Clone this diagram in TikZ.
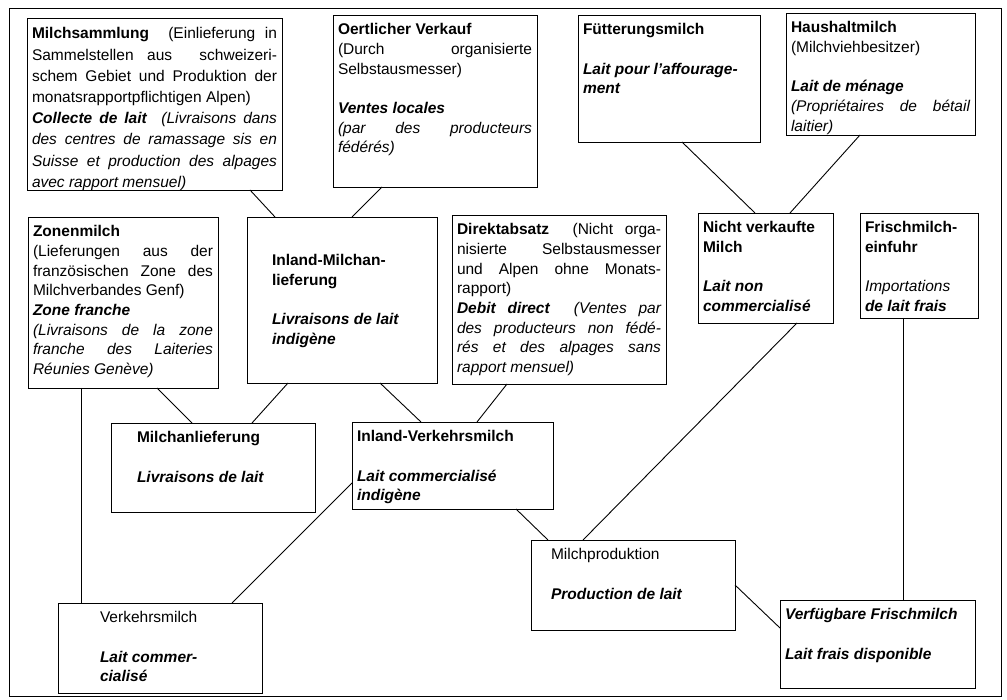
\documentclass[tikz,border=0pt]{standalone}
\usepackage{fontspec}
\setmainfont{Liberation Sans}

\newcommand{\feld}[4][t]{\parbox[t][#3][#1]{#2}{\strut #4}}
\hbadness=10000 \vbadness=10000
\hyphenpenalty=10000 \tolerance=10000 \pretolerance=-1

\begin{document}
\begin{tikzpicture}[x=1pt, y=-1pt, line width=0.9pt,
    kasten/.style={draw, anchor=north west, inner xsep=5pt, inner ysep=6pt, outer sep=0pt,
      font=\fontsize{15.5}{19.7}\selectfont}]
  \useasboundingbox (0,0) rectangle (1007,700);
  \draw (9,8) rectangle (1001,696);

  % obere Reihe
  \node[kasten, font=\fontsize{15.5}{21.2}\selectfont] (msam) at (27,18) {\feld{245pt}{160pt}{\textbf{Milchsammlung}\ \ (Einlieferung in\linebreak
    Sammelstellen aus\ \ schweizeri-\linebreak schem Gebiet und Produktion der\linebreak
    monatsrapportpflichtigen Alpen)\\
    \textbf{\textit{Collecte de lait}}\ \ \textit{(Livraisons dans\linebreak
    des centres de ramassage sis en\linebreak Suisse et production des alpages\linebreak
    avec rapport mensuel)}}};
  \node[kasten] (oert) at (333,15) {\feld{194pt}{160pt}{\textbf{Oertlicher Verkauf}\\
    (Durch organisierte\linebreak Selbstausmesser)\\[\baselineskip]
    \textbf{\textit{Ventes locales}}\\
    \textit{(par des producteurs\linebreak f\'ed\'er\'es)}}};
  \node[kasten] (fuet) at (578,15) {\feld{172pt}{115pt}{\textbf{F\"utterungsmilch}\\[\baselineskip]
    \textbf{\textit{Lait pour l'affourage-\\ment}}}};
  \node[kasten] (haus) at (786,13) {\feld{179pt}{110pt}{\textbf{Haushaltmilch}\\
    (Milchviehbesitzer)\\[\baselineskip]
    \textbf{\textit{Lait de m\'enage}}\\
    \textit{(Propri\'etaires de b\'etail\linebreak laitier)}}};

  % mittlere Reihe
  \node[kasten] (zone) at (28,217) {\feld{180pt}{159pt}{\textbf{Zonenmilch}\\
    (Lieferungen aus der\linebreak franz\"osischen Zone des\linebreak Milchverbandes Genf)\\
    \textbf{\textit{Zone franche}}\\
    \textit{(Livraisons de la zone\linebreak franche des Laiteries\linebreak R\'eunies Gen\`eve)}}};
  \node[kasten] (inla) at (247,217) {\feld[c]{180pt}{154pt}{\leftskip=20pt
    \textbf{Inland-Milchan-\\lieferung}\\[\baselineskip]
    \textbf{\textit{Livraisons de lait\\indig\`ene}}}};
  \node[kasten] (dire) at (452,215) {\feld{204pt}{157pt}{\textbf{Direktabsatz}\ \ (Nicht orga-\linebreak
    nisierte Selbstausmesser\linebreak und Alpen ohne Monats-\linebreak rapport)\\
    \textbf{\textit{Debit direct}}\ \ \textit{(Ventes par\linebreak
    des producteurs non f\'ed\'e-\linebreak r\'es et des alpages sans\linebreak rapport mensuel)}}};
  \node[kasten] (nich) at (698,213) {\feld{125pt}{98pt}{\textbf{Nicht verkaufte\\Milch}\\[\baselineskip]
    \textbf{\textit{Lait non\\commercialis\'e}}}};
  \node[kasten] (fris) at (860,213) {\feld{108pt}{93pt}{\textbf{Frischmilch-\\einfuhr}\\[\baselineskip]
    \textit{Importations}\\\textbf{\textit{de lait frais}}}};

  % untere Reihen
  \node[kasten] (mila) at (111,423) {\feld{194pt}{77pt}{\leftskip=21pt
    \textbf{Milchanlieferung}\\[\baselineskip]\textbf{\textit{Livraisons de lait}}}};
  \node[kasten] (ivkm) at (352,422) {\feld{191pt}{75pt}{\textbf{Inland-Verkehrsmilch}\\[\baselineskip]
    \textbf{\textit{Lait commercialis\'e\\indig\`ene}}}};
  \node[kasten] (verk) at (58,603) {\feld{194pt}{78pt}{\leftskip=37pt
    Verkehrsmilch\\[\baselineskip]\textbf{\textit{Lait commer-\\cialis\'e}}}};
  \node[kasten] (milp) at (531,540) {\feld{194pt}{78pt}{\leftskip=15pt
    Milchproduktion\\[\baselineskip]\textbf{\textit{Production de lait}}}};
  \node[kasten] (verf) at (780,600) {\feld{185pt}{76pt}{\textbf{\textit{Verf\"ugbare Frischmilch}}\\[\baselineskip]
    \textbf{\textit{Lait frais disponible}}}};

  \draw ([xshift=223pt]msam.south west) -- ([xshift=28pt]inla.north west);
  \draw ([xshift=49pt]oert.south west) -- ([xshift=105pt]inla.north west);
  \draw ([xshift=104pt]fuet.south west) -- ([xshift=57pt]nich.north west);
  \draw ([xshift=74pt]haus.south west) -- ([xshift=92pt]nich.north west);
  \draw ([xshift=129pt]zone.south west) -- ([xshift=81pt]mila.north west);
  \draw ([xshift=41pt]inla.south west) -- ([xshift=141pt]mila.north west);
  \draw ([xshift=53pt]zone.south west) -- ([xshift=23pt]verk.north west);
  \draw ([xshift=133pt]inla.south west) -- ([xshift=69pt]ivkm.north west);
  \draw ([xshift=55pt]dire.south west) -- ([xshift=125pt]ivkm.north west);
  \draw ([yshift=-61pt]ivkm.north west) -- ([xshift=174pt]verk.north west);
  \draw ([xshift=164pt]ivkm.south west) -- ([xshift=17pt]milp.north west);
  \draw ([xshift=99pt]nich.south west) -- ([xshift=52pt]milp.north west);
  \draw ([yshift=-45pt]milp.north east) -- ([yshift=-28pt]verf.north west);
  \draw ([xshift=43pt]fris.south west) -- ([xshift=123pt]verf.north west);
\end{tikzpicture}
\end{document}
